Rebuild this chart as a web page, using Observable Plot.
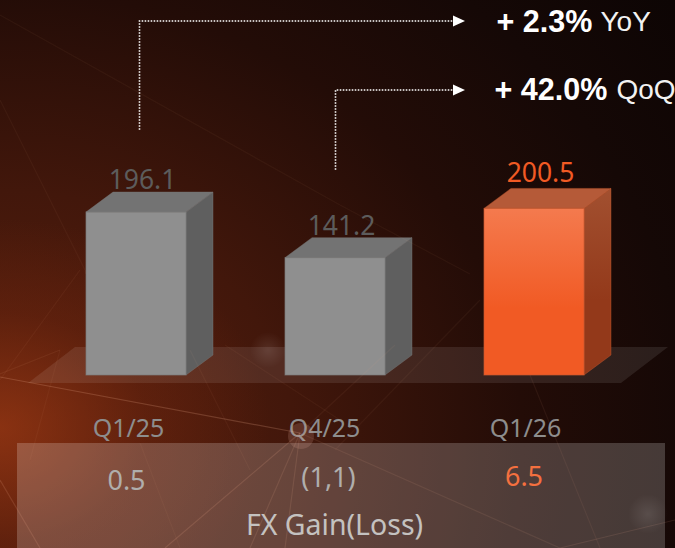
<!DOCTYPE html>
<html><head><meta charset="utf-8">
<script src="https://cdn.jsdelivr.net/npm/d3@7"></script>
<script src="https://cdn.jsdelivr.net/npm/@observablehq/plot@0.6"></script>
<style>
html,body{margin:0;padding:0;width:675px;height:548px;overflow:hidden;background:#0d0504}
#chart{position:absolute;left:0;top:0;width:675px;height:548px;
background:
 radial-gradient(ellipse 40% 38% at 0% 78%, rgba(165,60,20,.62), rgba(120,40,14,.34) 55%, rgba(60,20,8,0) 100%),
 radial-gradient(ellipse 125% 135% at 0% 82%, #5e210e 0%, #42170b 35%, #230c07 62%, #150806 82%, #0d0504 100%);}
#deco{position:absolute;left:0;top:0}
#chart svg.plot{position:absolute;left:0;top:0;background:transparent}
</style></head><body>
<div id="chart"><svg id="deco" width="675" height="548"></svg></div>
<script>
// ---- chart values ----
const categories = ["Q1/25", "Q4/25", "Q1/26"];
const revenue = [196.1, 141.2, 200.5];
const revenueLabels = ["196.1", "141.2", "200.5"];
const fxValues = ["0.5", "(1,1)", "6.5"];
const fxTitle = "FX Gain(Loss)";
const changeValues = ["+ 2.3%", "+ 42.0%"];
const changeNames = ["YoY", "QoQ"];
const changeFrom = ["Q1/25", "Q4/25"];
// connector start and level, in units of the value axis
const connectorStart = [295, 247];
const connectorLevel = [426, 343];

// ---- styles ----
const font = "'Noto Sans', sans-serif";
const headFont = "'Liberation Sans', Arial, sans-serif";
const depthX = 27, depthY = 20;
const accent = "#f15a24";
const faces = {
  grey: {front: "#8f8f8f", top: "#737373", side: "#5f5f5f", stroke: "#7a7a7a"},
  orange: {front: "url(#orangeFront)", top: "#b55a38", side: "url(#orangeSide)", stroke: "#c85a30"}
};
const faceOf = c => c === "Q1/26" ? faces.orange : faces.grey;
const table = categories.map((c, i) => ({category: c, value: revenue[i], label: revenueLabels[i], fx: fxValues[i]}));

// decorative backdrop (network texture of the slide, not data)
const deco = d3.select("#deco");
const strands = [
  [0,15,340,205,.05],[340,205,470,274,.05],[0,100,85,270,.05],[85,270,86,274,.05],
  [0,377,300,433,.22],[300,433,165,548,.16],[300,433,250,548,.13],[300,433,285,548,.13],
  [300,433,560,548,.1],[140,443,180,548,.05],[675,520,560,548,.12],[0,480,40,548,.16],
  [190,350,250,470,.05],[60,350,0,374,.08],[30,460,60,350,.05],[395,345,300,433,.06],
  [530,375,600,548,.07],[480,300,335,450,.05],[80,270,0,380,.06],[225,345,340,420,.05]
];
deco.selectAll("line").data(strands).join("line")
  .attr("x1", d => d[0]).attr("y1", d => d[1]).attr("x2", d => d[2]).attr("y2", d => d[3])
  .attr("stroke", "#f0b090").attr("stroke-opacity", d => d[4]).attr("stroke-width", 1.2);
const defs0 = deco.append("defs").append("radialGradient").attr("id", "glow");
defs0.append("stop").attr("offset", 0).attr("stop-color", "#fff").attr("stop-opacity", .1);
defs0.append("stop").attr("offset", 1).attr("stop-color", "#fff").attr("stop-opacity", 0);
deco.selectAll("circle.g").data([[268,350,18],[648,514,20]]).join("circle").attr("class","g")
  .attr("cx", d => d[0]).attr("cy", d => d[1]).attr("r", d => d[2]).attr("fill", "url(#glow)");
deco.append("circle").attr("cx", 301).attr("cy", 436).attr("r", 13).attr("fill", "#d8a090").attr("fill-opacity", .2);

function gradients() {
  const svg = d3.create("svg:g");
  const d = svg.append("defs");
  const g1 = d.append("linearGradient").attr("id", "orangeFront").attr("x1", 0).attr("x2", 0).attr("y1", 0).attr("y2", 1);
  g1.append("stop").attr("offset", 0).attr("stop-color", "#f47a4e");
  g1.append("stop").attr("offset", .6).attr("stop-color", "#f15a24");
  g1.append("stop").attr("offset", 1).attr("stop-color", "#f15a24");
  const g2 = d.append("linearGradient").attr("id", "orangeSide").attr("x1", 0).attr("x2", 0).attr("y1", 0).attr("y2", 1);
  g2.append("stop").attr("offset", 0).attr("stop-color", "#a25030");
  g2.append("stop").attr("offset", .6).attr("stop-color", "#93391a");
  g2.append("stop").attr("offset", 1).attr("stop-color", "#93391a");
  return svg.node();
}

// stage floor and the table panel are plain translucent shapes tied to the frame
function floorAndPanel(index, {x}, values, {width, height, marginBottom}) {
  const g = d3.create("svg:g");
  const base = height - marginBottom;
  const bw = x.bandwidth();
  const left = x(categories[0]) - 58, right = x(categories[2]) + bw + 37;
  g.append("polygon")
    .attr("points", [[left, base + 8], [left + 47, base - 28], [right + 47, base - 28], [right, base + 8]].join(" "))
    .attr("fill", "#ffffff").attr("fill-opacity", .09);
  g.append("rect").attr("x", 17).attr("y", 443).attr("width", 648).attr("height", 105)
    .attr("fill", "#ffffff").attr("fill-opacity", .2);
  return g.node();
}

// 3-D side and top faces, derived from the bar's own scaled rectangle
function prisms(index, {x, y}, values, dims) {
  const g = d3.create("svg:g");
  const bw = x.bandwidth();
  for (const d of table) {
    const l = x(d.category), r = l + bw, t = y(d.value), b = y(0), f = faceOf(d.category);
    g.append("polygon").attr("points", [[r, t], [r + depthX, t - depthY], [r + depthX, b - depthY], [r, b]].join(" "))
      .attr("fill", f.side).attr("stroke", f.stroke).attr("stroke-opacity", .4);
    g.append("polygon").attr("points", [[l, t], [l + depthX, t - depthY], [r + depthX, t - depthY], [r, t]].join(" "))
      .attr("fill", f.top).attr("stroke", f.stroke).attr("stroke-opacity", .4);
  }
  return g.node();
}

// dotted connectors starting above each bar, ending at a shared arrow column
function connectors(index, {x, y}, values, dims) {
  const g = d3.create("svg:g");
  const endX = 455;
  changeFrom.forEach((c, i) => {
    const px = Math.round(x(c) + x.bandwidth() / 2) + (i === 0 ? 3.5 : 0.5);
    const y0 = y(connectorStart[i]), y1 = y(connectorLevel[i]);
    g.append("path").attr("d", `M${px},${y0}V${y1}H${endX}`)
      .attr("fill", "none").attr("stroke", "#fff").attr("stroke-width", 1.6).attr("stroke-dasharray", "1.6 1.4");
    g.append("path").attr("d", `M${endX - 2},${y1 - 5.5}L${endX + 10},${y1}L${endX - 2},${y1 + 5.5}Z`).attr("fill", "#fff");
  });
  return g.node();
}

const labelDx = [6, 6, 6], labelDy = [-24, -23, -27];
const catDx = [-8, -11, -9], fxDx = [-10, -7, -10.5], fxDy = [481, 478, 477];

const plot = Plot.plot({
  width: 675, height: 548,
  marginTop: 0, marginLeft: 0, marginRight: 0, marginBottom: 173,
  style: {background: "transparent", fontFamily: font},
  x: {type: "band", domain: categories, range: [85.5, 584], paddingInner: 0.5, paddingOuter: 0, label: null, axis: null},
  y: {domain: [0, 451.3], axis: null},
  marks: [
    gradients,
    floorAndPanel,
    prisms,
    Plot.barY(table, {x: "category", y: "value", fill: d => faceOf(d.category).front, stroke: d => faceOf(d.category).stroke, strokeOpacity: .7}),
    connectors,
    ...table.map((d, i) => Plot.text([d], {
      x: "category", y: "value", text: "label", dx: labelDx[i], dy: labelDy[i], lineAnchor: "bottom",
      fontSize: 26.5, fill: d.category === "Q1/26" ? accent : "#5c5c5c"
    })),
    ...table.map((d, i) => Plot.text([d], {
      x: "category", text: "category", frameAnchor: "bottom", dx: catDx[i], dy: 53, lineAnchor: "middle",
      fontSize: 25, fill: "#8d8d8d"
    })),
    ...table.map((d, i) => Plot.text([d], {
      x: "category", text: "fx", frameAnchor: "bottom", dx: fxDx[i], dy: fxDy[i] - 375, lineAnchor: "middle",
      fontSize: 27, fill: d.category === "Q1/26" ? "#f4703f" : "#b0aeac"
    })),
    Plot.text([fxTitle], {frameAnchor: "bottom-left", dx: 334, dy: 150, textAnchor: "middle", lineAnchor: "middle", fontSize: 28.5, fill: "#c4c2c0"}),
    ...changeValues.map((t, i) => Plot.text([t], {frameAnchor: "top-left", dx: [496, 494][i], dy: [22, 90][i], textAnchor: "start", lineAnchor: "middle", fontFamily: headFont, fontWeight: "bold", fontSize: 30.5, fill: "#fff"})),
    ...changeNames.map((t, i) => Plot.text([t], {frameAnchor: "top-left", dx: [600, 616][i], dy: [22, 90][i], textAnchor: "start", lineAnchor: "middle", fontFamily: headFont, fontSize: 28, fill: "#f2f2f2"}))
  ]
});
document.getElementById("chart").appendChild(plot);
</script>
</body></html>
